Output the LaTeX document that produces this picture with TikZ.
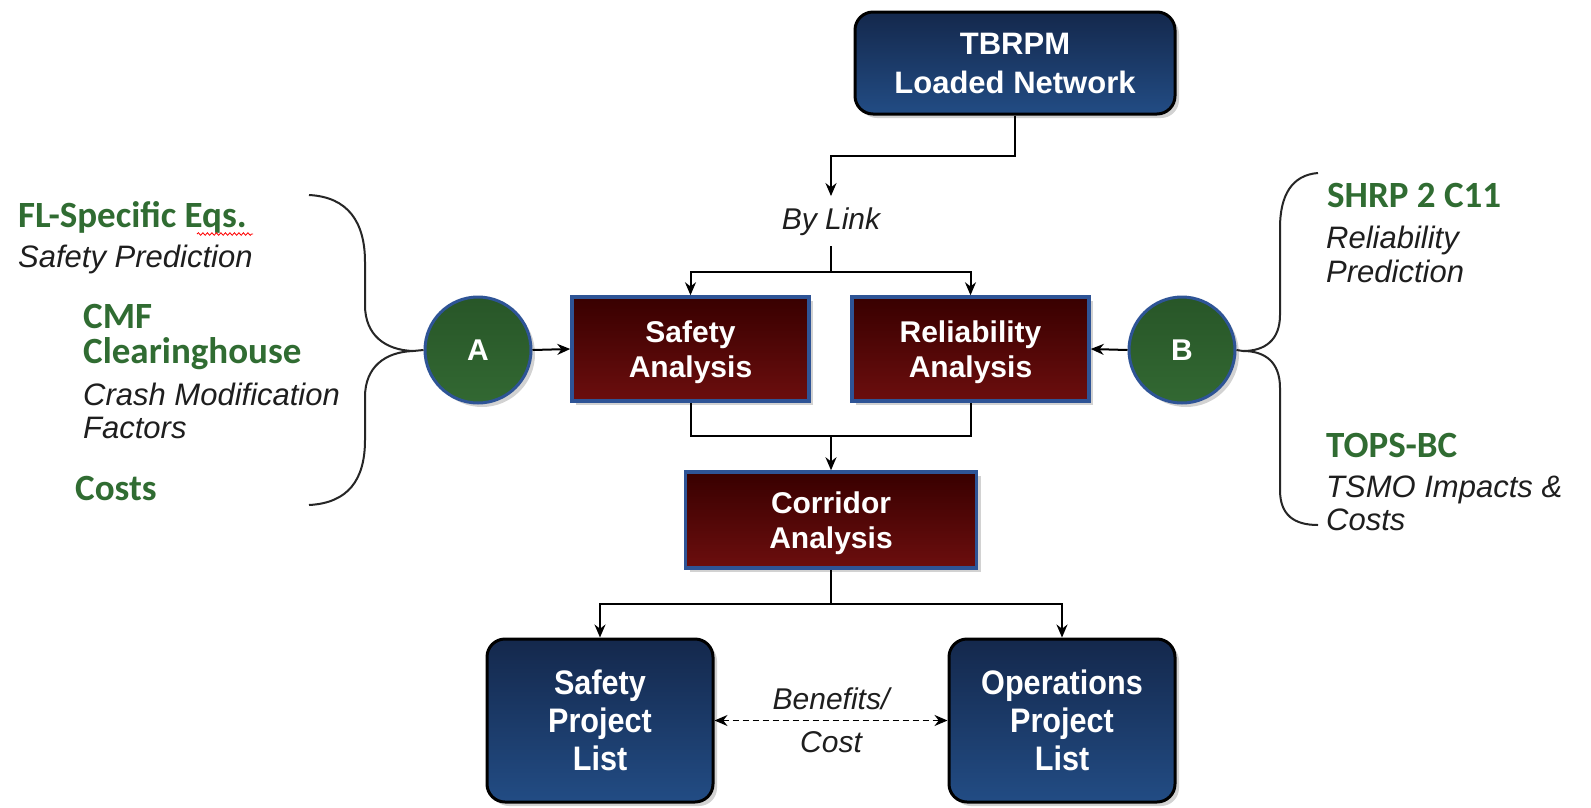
\documentclass[tikz,border=0pt]{standalone}
\usepackage{fontspec}
\setmainfont{Liberation Sans}
\newfontfamily\calfont{Carlito}
\newfontfamily\narrowfont[FakeStretch=0.9]{Liberation Sans}
\usetikzlibrary{arrows.meta,shadows,decorations.pathmorphing}

\definecolor{navytop}{RGB}{20,40,76}
\definecolor{navybot}{RGB}{34,76,132}
\definecolor{maroontop}{RGB}{56,0,0}
\definecolor{maroonbot}{RGB}{108,14,14}
\definecolor{edgeblue}{RGB}{46,84,150}
\definecolor{leafgreen}{RGB}{48,108,50}
\definecolor{disctop}{RGB}{40,86,40}
\definecolor{discbot}{RGB}{50,104,50}
\definecolor{notegray}{RGB}{30,30,30}

\tikzset{
  boxshadow/.style={drop shadow={opacity=0.35, shadow xshift=4pt, shadow yshift=-4pt}},
  navybox/.style={draw=black, line width=3pt, rounded corners=18pt,
    top color=navytop, bottom color=navybot, text=white, align=center,
    font=\bfseries\fontsize{31}{39}\selectfont, boxshadow},
  listbox/.style={navybox, font=\narrowfont\bfseries\fontsize{34}{38}\selectfont},
  maroonbox/.style={draw=edgeblue, line width=3.5pt,
    top color=maroontop, bottom color=maroonbot, text=white, align=center,
    font=\bfseries\fontsize{30}{35}\selectfont, text depth=0pt, boxshadow},
  disc/.style={circle, draw=edgeblue, line width=3pt, top color=disctop, bottom color=discbot,
    minimum size=106pt, inner sep=0pt, text=white,
    font=\bfseries\fontsize{30}{34}\selectfont, boxshadow},
  head/.style={text=leafgreen, font=\calfont\bfseries\fontsize{37}{40}\selectfont,
    anchor=base west, inner sep=0pt},
  note/.style={text=notegray, font=\itshape\fontsize{31}{34}\selectfont,
    anchor=base west, inner sep=0pt},
  midnote/.style={text=notegray, font=\itshape\fontsize{30}{34}\selectfont,
    anchor=base, inner sep=0pt},
  wire/.style={line width=2pt},
  link/.style={wire, -{Stealth[length=13pt,width=11pt]}},
  bracket/.style={line width=2pt, draw=black!85},
}

\begin{document}
\begin{tikzpicture}[x=1pt, y=-1pt]
\fill[white] (0,0) rectangle (1591,807);
\useasboundingbox (0,0) rectangle (1591,807);

% main boxes
\node[navybox, minimum width=320pt, minimum height=102pt] (tbrpm) at (1015,63) {TBRPM\\Loaded Network};
\node[maroonbox, minimum width=237pt, minimum height=104pt] (safety) at (690.5,349) {Safety\\Analysis};
\node[maroonbox, minimum width=237pt, minimum height=104pt] (rel) at (970.5,349) {Reliability\\Analysis};
\node[maroonbox, minimum width=291pt, minimum height=96pt] (corridor) at (831,520) {Corridor\\Analysis};
\node[listbox, minimum width=226pt, minimum height=163pt] (safelist) at (600,720.5) {Safety\\Project\\List};
\node[listbox, minimum width=226pt, minimum height=163pt] (opslist) at (1062,720.5) {Operations\\Project\\List};

% input discs
\node[disc] (A) at (478,350) {A};
\node[disc] (B) at (1182,350) {B};

% link label
\node[midnote, inner xsep=0pt, inner ysep=11pt] (bylink) at (831,229) {By Link};

% flow connectors
\draw[link] (tbrpm.south) -- ++(0,40) -| (bylink.north);
\coordinate (split) at (831,272);
\draw[wire] (bylink.south) -- (split);
\draw[link] (split) -| (safety.north);
\draw[link] (split) -| (rel.north);
\coordinate (join) at (831,436);
\draw[wire] (safety.south) |- (join) -| (rel.south);
\draw[link] (join) -- (corridor.north);
\coordinate (fork) at (831,604);
\draw[wire] (corridor.south) -- (fork);
\draw[link] (fork) -| (safelist.north);
\draw[link] (fork) -| (opslist.north);
\draw[link] (A.east) -- (safety.west);
\draw[link] (B.west) -- (rel.east);
\draw[line width=1.8pt, dash pattern=on 6pt off 4pt, {Stealth[length=13pt,width=11pt]}-{Stealth[length=13pt,width=11pt]}] (safelist.east) -- (opslist.west);
\node[midnote] (benefits) at (831,709) {Benefits/};
\node[midnote] (cost) at (831,752) {Cost};

% left inputs
\node[head] (fleqs) at (18,227) {FL-Specific Eqs.};
\node[note] (safepred) at (18,267) {Safety Prediction};
\node[head] (cmf) at (83,328) {CMF};
\node[head] (clearing) at (83,363) {Clearinghouse};
\node[note] (crash) at (83,405) {Crash Modification};
\node[note] (factors) at (83,438) {Factors};
\node[head] (costsA) at (75,500) {Costs};
\draw[red, line width=0.8pt, decorate, decoration={snake, amplitude=1.3pt, segment length=4.5pt}]
  (197,234) -- (253,234);

% right inputs
\node[head] (shrp) at (1327,207) {SHRP 2 C11};
\node[note] (relpred1) at (1326,248) {Reliability};
\node[note] (relpred2) at (1326,282) {Prediction};
\node[head] (tops) at (1326,457) {TOPS-BC};
\node[note] (tsmo1) at (1326,497) {TSMO Impacts \&};
\node[note] (tsmo2) at (1326,530) {Costs};

% left brace gathering into A
\coordinate (lefttip) at (413,351);
\draw[bracket] (309,195) .. controls (348,197) and (365,222) .. (365,262) -- (365,305)
  .. controls (365,335) and (385,350) .. (lefttip)
  .. controls (385,352) and (365,367) .. (365,397) -- (365,440)
  .. controls (365,480) and (348,503) .. (309,505);
\draw[bracket] (lefttip) -- (A.west);

% right brace gathering into B
\coordinate (righttip) at (1243,351);
\draw[bracket] (1318,173) .. controls (1292,175) and (1280,195) .. (1280,228) -- (1280,315)
  .. controls (1280,340) and (1265,351) .. (righttip)
  .. controls (1265,351) and (1280,362) .. (1280,388) -- (1280,490)
  .. controls (1280,515) and (1294,525) .. (1318,525);
\draw[bracket] (righttip) -- (B.east);
\end{tikzpicture}
\end{document}
